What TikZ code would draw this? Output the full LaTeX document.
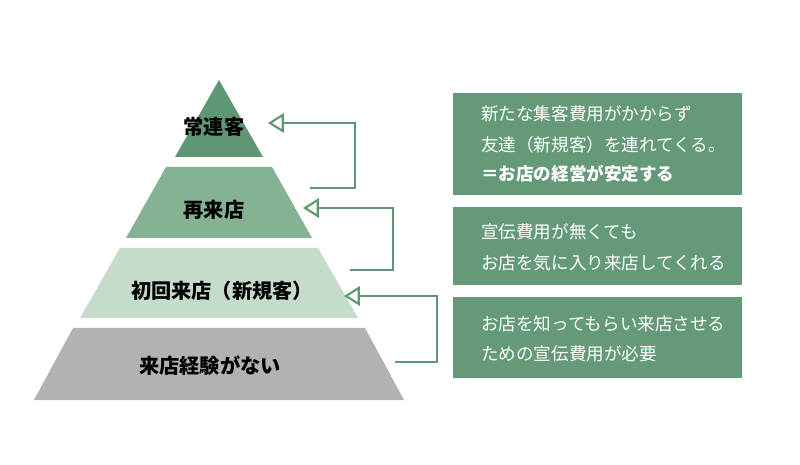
\documentclass[tikz,border=0pt]{standalone}
\usepackage{fontspec}
\setmainfont{Noto Sans CJK JP}
\usetikzlibrary{arrows.meta}
\definecolor{dkgreen}{HTML}{5F9673}
\definecolor{mdgreen}{HTML}{86B294}
\definecolor{ltgreen}{HTML}{C5DCCB}
\definecolor{grayish}{HTML}{B5B1B1}
\definecolor{boxgreen}{HTML}{659A78}
\tikzset{
  tier/.style={draw=none},
  tierlabel/.style={font=\bfseries\fontsize{11.5pt}{13pt}\selectfont, text=black},
  infobox/.style={fill=boxgreen, minimum width=5.78cm, anchor=north west, inner sep=0pt},
  infotext/.style={text=white, anchor=west, font=\fontsize{10pt}{12pt}\selectfont},
  link/.style={draw=dkgreen, line width=1.2pt, -{Triangle[open, length=9pt, width=11pt, fill=white]}},
}
\begin{document}
\begin{tikzpicture}[x=0.02cm,y=-0.02cm]
\useasboundingbox (0,0) rectangle (800,465);
% pyramid
\fill [dkgreen] (219,80) -- (263,157) -- (175,157) -- cycle;
\fill [mdgreen] (166,167) -- (272,167) -- (312,238) -- (126,238) -- cycle;
\fill [ltgreen] (120,248) -- (318,248) -- (358,318) -- (80,318) -- cycle;
\fill [grayish] (73,328) -- (365,328) -- (404,400) -- (34,400) -- cycle;
\node [tierlabel] (t1) at (214,127) {常連客};
\node [tierlabel] (t2) at (214,210) {再来店};
\node [tierlabel] (t3) at (222,291) {初回来店（新規客）};
\node [tierlabel] (t4) at (210,366) {来店経験がない};
% boxes
\node [infobox, minimum height=2.04cm] (b1) at (453,93) {};
\node [infobox, minimum height=1.56cm] (b2) at (453,207) {};
\node [infobox, minimum height=1.62cm] (b3) at (453,297) {};
\node [infotext] (b1a) at (475,114) {新たな集客費用がかからず};
\node [infotext] (b1b) at (475,145) {友達（新規客）を連れてくる。};
\node [infotext, font=\bfseries\fontsize{10pt}{12pt}\selectfont] (b1c) at (475,174) {＝お店の経営が安定する};
\node [infotext] (b2a) at (475,232) {宣伝費用が無くても};
\node [infotext] (b2b) at (475,263) {お店を気に入り来店してくれる};
\node [infotext] (b3a) at (475,324) {お店を知ってもらい来店させる};
\node [infotext] (b3b) at (475,354) {ための宣伝費用が必要};
% connectors
\coordinate (s1) at (310,188); \coordinate (e1) at (268,123);
\coordinate (s2) at (350,270); \coordinate (e2) at (303,208);
\coordinate (s3) at (395,362); \coordinate (e3) at (344,296);
\draw [link] (s1) -- (355,188) -- (355,123) -- (e1);
\draw [link] (s2) -- (393,270) -- (393,208) -- (e2);
\draw [link] (s3) -- (437,362) -- (437,296) -- (e3);
\end{tikzpicture}
\end{document}
